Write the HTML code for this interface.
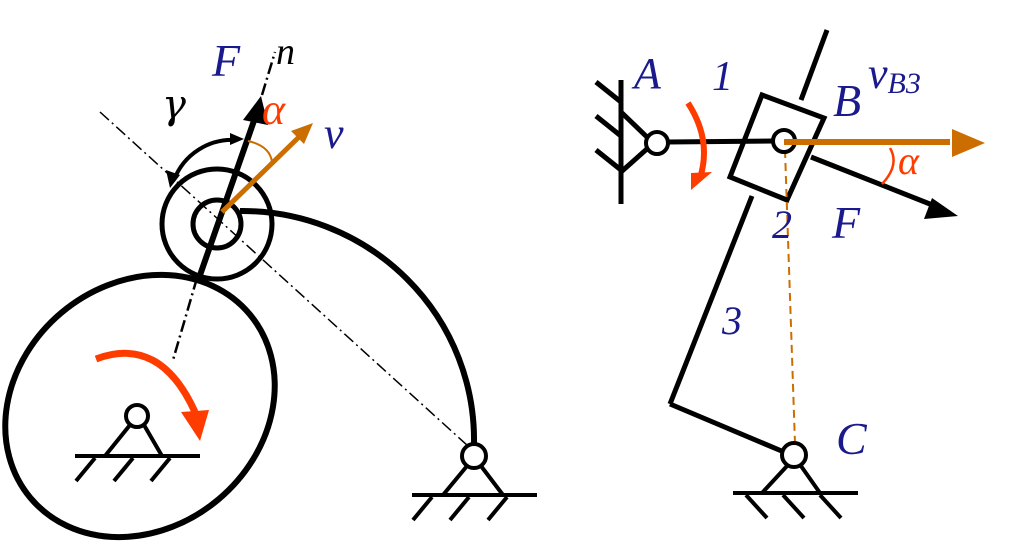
<!DOCTYPE html>
<html><head><meta charset="utf-8"><style>
html,body{margin:0;padding:0;background:#fff;width:1014px;height:547px;overflow:hidden;}
svg{display:block}
text{font-family:"Liberation Serif",serif;font-style:italic;}
</style></head><body>
<svg width="1014" height="547" viewBox="0 0 1014 547" xmlns="http://www.w3.org/2000/svg">
<g fill="none" stroke="#000" stroke-width="6">
<ellipse cx="140" cy="406" rx="143" ry="122" transform="rotate(-40 140 406)"/>
<circle cx="217" cy="224" r="55" stroke-width="5"/>
<circle cx="217" cy="224" r="24" stroke-width="5"/>
<path d="M240,211 A232,229 0 0 1 474,444"/>
</g>
<g stroke="#000" stroke-width="1.5" stroke-dasharray="12,4,2,4" fill="none">
<line x1="100" y1="112" x2="468" y2="446"/>
<line x1="197" y1="278" x2="173" y2="360" stroke-width="2.5"/>
<line x1="262" y1="95" x2="275" y2="52" stroke-width="2.5"/>
</g>
<line x1="199" y1="278" x2="256" y2="115" stroke="#000" stroke-width="6"/>
<path d="M261,96 L243,120 L268,125z" fill="#000"/>
<line x1="222" y1="212" x2="300" y2="136" stroke="#cc6d00" stroke-width="5"/>
<path d="M313,123 L291,131 L304,144z" fill="#cc6d00"/>
<path d="M248,141 Q270,146 272,162" fill="none" stroke="#cc6d00" stroke-width="2"/>
<path d="M174,180 A62,62 0 0 1 236,140" fill="none" stroke="#000" stroke-width="4"/>
<path d="M170,188 L166,170 L180,175z" fill="#000"/>
<path d="M244,139 L230,133 L230,145z" fill="#000"/>
<g stroke="#000" stroke-width="4" fill="none">
<circle cx="137" cy="416" r="11" fill="#fff"/>
<path d="M130,425 L105,456 M144,425 L162,456"/>
<line x1="75" y1="456" x2="200" y2="456"/>
<path d="M95,458 L76,481 M133,458 L114,481 M170,458 L151,481"/>
<circle cx="474" cy="456" r="12" fill="#fff"/>
<path d="M467,466 L443,495 M481,466 L503,495"/>
<line x1="412" y1="495" x2="537" y2="495"/>
<path d="M432,497 L413,520 M469,497 L450,520 M507,497 L488,520"/>
</g>
<path d="M96,359 Q160,335 195,412" fill="none" stroke="#ff3c00" stroke-width="7"/>
<path d="M181,412 L209,410 L200,441z" fill="#ff3c00"/>
<text x="212" y="76" font-size="46" fill="#1a1a8c">F</text>
<text x="276" y="64" font-size="38" fill="#000">n</text>
<text x="162" y="118" font-size="40" fill="#000" style="font-family:'DejaVu Serif',serif">γ</text>
<text x="262" y="124" font-size="44" fill="#ff3c00">α</text>
<text x="324" y="148" font-size="44" fill="#1a1a8c">v</text>

<g stroke="#000" stroke-width="5" fill="none">
<line x1="621" y1="80" x2="621" y2="204"/>
<path d="M596,82 L621,102 M596,116 L621,136 M596,150 L621,170"/>
<path d="M621,112 L648,138 M621,172 L648,148"/>
<line x1="668" y1="142" x2="773" y2="141"/>
<line x1="827" y1="30" x2="801" y2="100"/>
<line x1="752" y1="196" x2="670" y2="404"/>
<line x1="670" y1="404" x2="784" y2="452"/>
<polygon points="762,95 824,118 787,200 730,177"/>
<line x1="811" y1="157" x2="940" y2="208"/>
</g>
<path d="M958,216 L932,198 L924,219z" fill="#000"/>
<line x1="785" y1="150" x2="795" y2="444" stroke="#cc6d00" stroke-width="2" stroke-dasharray="8,5"/>
<g stroke="#000" stroke-width="4" fill="none">
<circle cx="657" cy="143" r="11" fill="#fff"/>
<circle cx="784" cy="141" r="11" fill="#fff"/>
<circle cx="794" cy="455" r="12" fill="#fff"/>
<path d="M787,466 L762,493 M801,466 L820,493"/>
<line x1="733" y1="493" x2="858" y2="493"/>
<path d="M746,495 L767,518 M783,495 L804,518 M820,495 L841,518"/>
</g>
<line x1="784" y1="142" x2="950" y2="142" stroke="#cc6d00" stroke-width="6"/>
<path d="M985,143 L952,129 L952,157z" fill="#cc6d00"/>
<path d="M688,103 Q712,140 700,178" fill="none" stroke="#ff3c00" stroke-width="6"/>
<path d="M691,173 L712,172 L691,190z" fill="#ff3c00"/>
<path d="M890,148 Q900,165 882,184" fill="none" stroke="#ff3c00" stroke-width="2.5"/>
<text x="634" y="88" font-size="44" fill="#1a1a8c">A</text>
<text x="712" y="90" font-size="42" fill="#1a1a8c">1</text>
<text x="833" y="116" font-size="46" fill="#1a1a8c">B</text>
<text x="868" y="88" font-size="44" fill="#1a1a8c">v<tspan font-size="30" dy="5">B3</tspan></text>
<text x="898" y="174" font-size="40" fill="#ff3c00">α</text>
<text x="772" y="238" font-size="40" fill="#1a1a8c">2</text>
<text x="832" y="238" font-size="46" fill="#1a1a8c">F</text>
<text x="722" y="334" font-size="40" fill="#1a1a8c">3</text>
<text x="836" y="454" font-size="46" fill="#1a1a8c">C</text>
</svg>
</body></html>
